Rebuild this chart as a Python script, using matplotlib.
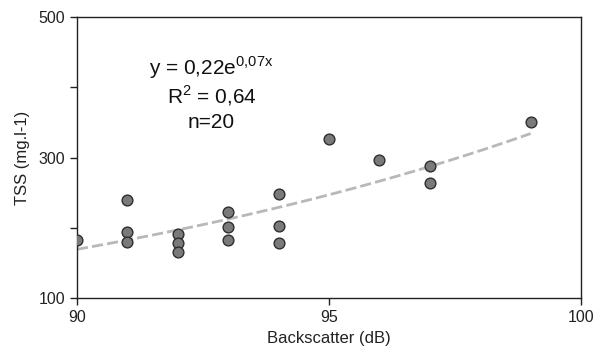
import numpy as np
import matplotlib.pyplot as plt
from matplotlib.ticker import FixedLocator

plt.rcParams['font.family'] = ['Liberation Sans', 'DejaVu Sans']

# data
backscatter = [90, 91, 91, 91, 92, 92, 92, 93, 93, 93, 94, 94, 94, 95, 96, 97, 97, 99]
tss = [183, 240, 194, 180, 191, 178, 165, 223, 201, 183, 248, 203, 178, 327, 297, 288, 264, 351]
x_ticks = [90, 95, 100]
y_ticks = [100, 300, 500]
y_minor = [200, 400]

# exponential trend fitted to the points (like the spreadsheet trendline)
k, ln_a = np.polyfit(backscatter, np.log(tss), 1)
xs = np.linspace(90, 99, 100)
trend = np.exp(ln_a) * np.exp(k * xs)

fig = plt.figure(figsize=(5.95, 3.6), dpi=100)
ax = fig.add_axes([77 / 595, 62 / 360, 504 / 595, 281 / 360])

ax.plot(xs, trend, color='#b8b8b8', linestyle=(0, (4, 1.5)), linewidth=2, zorder=2)
ax.scatter(backscatter, tss, s=60, facecolor='#7a7a7a', edgecolor='#2e2e2e',
           linewidth=1, zorder=3)

ax.set_xlim(90, 100)
ax.set_ylim(100, 500)
ax.xaxis.set_major_locator(FixedLocator(x_ticks))
ax.yaxis.set_major_locator(FixedLocator(y_ticks))
ax.yaxis.set_minor_locator(FixedLocator(y_minor))
ax.tick_params(which='both', direction='out', length=5, width=1, labelsize=11.5, colors='#222222')
ax.tick_params(axis='x', pad=4)
for s in ax.spines.values():
    s.set_color('#222222')
    s.set_linewidth(1)

ax.set_xlabel('Backscatter (dB)', fontsize=12, color='#222222', labelpad=4)
ax.set_ylabel('TSS (mg.l-1)', fontsize=12, color='#222222', labelpad=6)

txt = dict(transform=ax.transAxes, ha='center', va='center', fontsize=15, color='#111111')
ax.text(0.267, 0.818, r'y = 0,22e$^{\mathregular{0{,}07x}}$', **txt)
ax.text(0.267, 0.719, r'R$^{\mathregular{2}}$ = 0,64', **txt)
ax.text(0.267, 0.625, 'n=20', **txt)

fig.savefig('out.png', dpi=100)
